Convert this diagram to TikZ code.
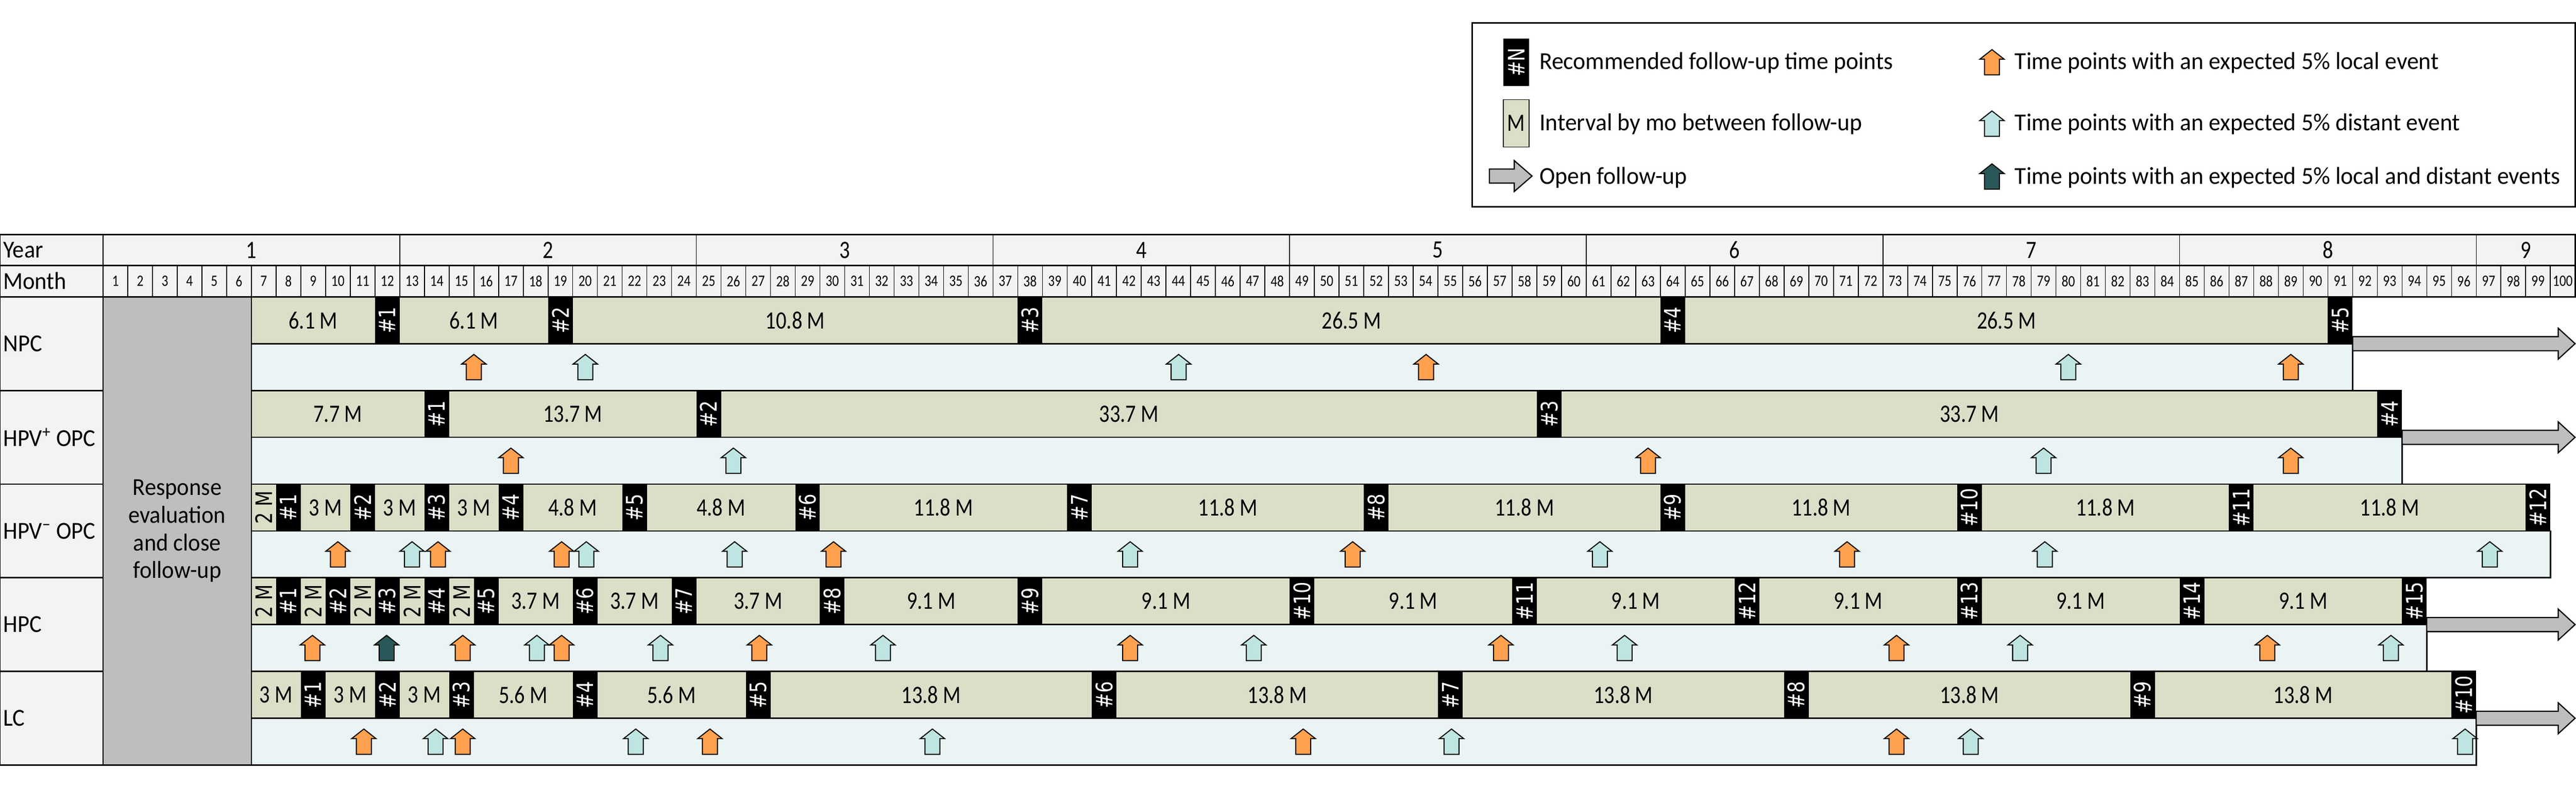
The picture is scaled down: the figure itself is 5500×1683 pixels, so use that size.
\documentclass[tikz,border=0pt]{standalone}
\usepackage{fontspec}
\setmainfont{Carlito}[FakeStretch=0.83]
\newfontfamily\labelfont{Carlito}[FakeStretch=0.94]
\newfontfamily\legendfont{Carlito}[FakeStretch=0.965]
\newfontfamily\rotfont{DejaVu Sans}[FakeStretch=0.8]
\definecolor{barfill}{RGB}{220,223,200}
\definecolor{stripfill}{RGB}{235,244,245}
\definecolor{greyfill}{RGB}{190,190,190}
\definecolor{headfill}{RGB}{243,243,243}
\definecolor{orangefill}{RGB}{255,161,79}
\definecolor{tealfill}{RGB}{191,229,226}
\definecolor{darkfill}{RGB}{42,88,88}
\newcommand{\mainsize}{\fontsize{15.2}{17}\selectfont}
\newcommand{\labelsize}{\fontsize{14.8}{16.8}\labelfont}
\newcommand{\legendsize}{\fontsize{14.8}{16.5}\legendfont}
\newcommand{\rotsize}{\fontsize{13.8}{16}\rotfont}
\newcommand{\monthsize}{\fontsize{9.6}{10}\selectfont}
\newcommand{\twoM}{\rotsize 2 M}
\tikzset{
  rule/.style={draw=black,line width=0.03cm},
  thinrule/.style={draw=black,line width=0.018cm},
  plain/.style={inner sep=0pt,outer sep=0pt,font=\mainsize,text=black},
  leftlabel/.style={plain,anchor=west,font=\labelsize},
  legendlabel/.style={plain,anchor=base west,font=\legendsize},
  barlabel/.style={plain},
  fulabel/.style={plain,text=white,rotate=90,font=\rotsize},
  monthlabel/.style={inner sep=0pt,outer sep=0pt,font=\monthsize},
  eventarrow/.style={draw=black,line width=0.022cm,line join=miter},
  openarrow/.style={draw=black,line width=0.025cm,fill=greyfill,line join=miter}
}
% up arrow: centre x, y of the tip, colour
\newcommand{\uparrowat}[3]{%
  \path[eventarrow,fill=#3] (#1-16,#2+54) -- (#1-16,#2+20.5) -- (#1-26,#2+20.5) -- (#1,#2) -- (#1+26,#2+20.5) -- (#1+16,#2+20.5) -- (#1+16,#2+54) -- cycle;}
% open follow-up arrow: start x, end of the head base, tip x, centre y
\newcommand{\openat}[4]{%
  \path[openarrow] (#1,#4-15) -- (#2,#4-15) -- (#2,#4-33) -- (#3,#4) -- (#2,#4+33) -- (#2,#4+15) -- (#1,#4+15) -- cycle;}
% name, top, last month, bars, boxes, arrows
\newcommand{\rowdata}[6]{%
  \path[rule,fill=headfill] (0,#2) rectangle (220,#2+200);
  \path[rule,fill=stripfill] ({220+52.78*6},#2+100) rectangle ({220+52.78*#3},#2+200);
  \foreach \a/\b/\l/\r [count=\i] in {#4}{%
    \fill[barfill] ({220+52.78*\a},#2) rectangle ({220+52.78*\b},#2+100);
    \node[barlabel,rotate=\r] (#1bar\i) at ({220+52.78*(\a+\b)/2},#2+50) {\l};
  }
  \draw[rule] ({220+52.78*6},#2) -- ({220+52.78*#3},#2);
  \draw[rule] ({220+52.78*6},#2+100) -- ({220+52.78*#3},#2+100);
  \foreach \a [count=\i] in {#5}{%
    \fill[black] ({220+52.78*\a},#2-1) rectangle ({220+52.78*(\a+1)},#2+101);
    \node[fulabel] (#1fu\i) at ({220+52.78*(\a+.5)},#2+50) {\#\i};
  }
  \foreach \t/\c in {#6}{%
    \pgfmathsetmacro{\tx}{220+52.78*\t}
    \uparrowat{\tx}{#2+123}{\c}
  }
}
\begin{document}
\begin{tikzpicture}[x=0.01cm,y=-0.01cm]
\useasboundingbox (0,0) rectangle (5500,1683);
\fill[white] (0,0) rectangle (5500,1683);

% legend
\path[rule] (3143,49) rectangle (5498,442);
\fill[black] (3210,82) rectangle (3265,184);
\node[fulabel] (lgN) at (3237.5,133) {\#N};
\path[fill=barfill,thinrule] (3210,213) rectangle (3265,314);
\node[barlabel] (lgM) at (3237.5,263) {M};
\openat{3180}{3233}{3271}{376}
\uparrowat{4253}{106}{orangefill}
\uparrowat{4253}{237}{tealfill}
\uparrowat{4253}{350}{darkfill}
\node[legendlabel] (lgA) at (3287,148) {Recommended follow-up time points};
\node[legendlabel] (lgB) at (3287,279) {Interval by mo between follow-up};
\node[legendlabel] (lgC) at (3287,393) {Open follow-up};
\node[legendlabel] (lgD) at (4302,148) {Time points with an expected 5\% local event};
\node[legendlabel] (lgE) at (4302,279) {Time points with an expected 5\% distant event};
\node[legendlabel] (lgF) at (4302,393) {Time points with an expected 5\% local and distant events};

% header
\path[rule,fill=headfill] (0,501) rectangle (5498,634);
\draw[rule] (0,567) -- (5498,567);
\draw[rule] (220,501) -- (220,634);
\node[leftlabel] (yearhead) at (7,534) {Year};
\node[leftlabel] (monthhead) at (7,600) {Month};
\foreach \m in {1,...,100}{%
  \draw[thinrule] ({220+52.78*\m},567) -- ({220+52.78*\m},634);
  \node[monthlabel] (m\m) at ({220+52.78*(\m-.5)},600.5) {\m};
}
\foreach \y in {1,...,8}{%
  \draw[thinrule] ({220+52.78*12*\y},501) -- ({220+52.78*12*\y},567);
  \node[barlabel] (y\y) at ({220+52.78*12*(\y-.5)},534) {\y};
}
\node[barlabel] (y9) at ({220+52.78*98},534) {9};

% rows
\rowdata{npc}{634}{91}
 {6/11/6.1 M/0,12/18/6.1 M/0,19/37/10.8 M/0,38/63/26.5 M/0,64/90/26.5 M/0}
 {11,18,37,63,90}
 {15/orangefill,19.51/tealfill,43.51/tealfill,53.52/orangefill,79.5/tealfill,88.5/orangefill}
\rowdata{hpvp}{834}{93}
 {6/13/7.7 M/0,14/24/13.7 M/0,25/58/33.7 M/0,59/92/33.7 M/0}
 {13,24,58,92}
 {16.5/orangefill,25.5/tealfill,62.5/orangefill,78.5/tealfill,88.5/orangefill}
\rowdata{hpvn}{1034}{99}
 {6/7/\twoM/90,8/10/3 M/0,11/13/3 M/0,14/16/3 M/0,17/21/4.8 M/0,22/28/4.8 M/0,29/39/11.8 M/0,40/51/11.8 M/0,52/63/11.8 M/0,64/75/11.8 M/0,76/86/11.8 M/0,87/98/11.8 M/0}
 {7,10,13,16,21,28,39,51,63,75,86,98}
 {9.5/orangefill,12.5/tealfill,13.55/orangefill,18.55/orangefill,19.55/tealfill,25.55/tealfill,29.55/orangefill,41.55/tealfill,50.55/orangefill,60.55/tealfill,70.55/orangefill,78.55/tealfill,96.55/tealfill}
\rowdata{hpc}{1234}{94}
 {6/7/\twoM/90,8/9/\twoM/90,10/11/\twoM/90,12/13/\twoM/90,14/15/\twoM/90,16/19/3.7 M/0,20/23/3.7 M/0,24/29/3.7 M/0,30/37/9.1 M/0,38/48/9.1 M/0,49/57/9.1 M/0,58/66/9.1 M/0,67/75/9.1 M/0,76/84/9.1 M/0,85/93/9.1 M/0}
 {7,9,11,13,15,19,23,29,37,48,57,66,75,84,93}
 {8.47/orangefill,11.47/darkfill,14.55/orangefill,17.55/tealfill,18.55/orangefill,22.55/tealfill,26.55/orangefill,31.55/tealfill,41.55/orangefill,46.55/tealfill,56.55/orangefill,61.55/tealfill,72.55/orangefill,77.55/tealfill,87.55/orangefill,92.55/tealfill}
\rowdata{lc}{1434}{96}
 {6/8/3 M/0,9/11/3 M/0,12/14/3 M/0,15/19/5.6 M/0,20/26/5.6 M/0,27/40/13.8 M/0,41/54/13.8 M/0,55/68/13.8 M/0,69/82/13.8 M/0,83/95/13.8 M/0}
 {8,11,14,19,26,40,54,68,82,95}
 {10.55/orangefill,13.45/tealfill,14.55/orangefill,21.55/tealfill,24.55/orangefill,33.55/tealfill,48.55/orangefill,54.55/tealfill,72.55/orangefill,75.55/tealfill,95.55/tealfill}

% grey column
\path[rule,fill=greyfill] (220,634) rectangle ({220+52.78*6},1634);
\node[plain,align=center,font=\labelsize] (resp) at ({220+52.78*3},1134)
  {Response\\evaluation\\and close\\follow-up};

% row labels
\node[leftlabel] (lnpc) at (7,734) {NPC};
\node[leftlabel] (lhpvp) at (7,934) {HPV\textsuperscript{+} OPC};
\node[leftlabel] (lhpvn) at (7,1134) {HPV\textsuperscript{−} OPC};
\node[leftlabel] (lhpc) at (7,1334) {HPC};
\node[leftlabel] (llc) at (7,1534) {LC};

% open follow-up arrows
\pgfmathsetmacro{\ea}{220+52.78*91}
\pgfmathsetmacro{\eb}{220+52.78*93}
\pgfmathsetmacro{\ec}{220+52.78*94}
\pgfmathsetmacro{\ed}{220+52.78*96}
\openat{\ea}{5462}{5498}{734}
\openat{\eb}{5462}{5498}{934}
\openat{\ec}{5462}{5498}{1334}
\openat{\ed}{5462}{5498}{1534}
\end{tikzpicture}
\end{document}
